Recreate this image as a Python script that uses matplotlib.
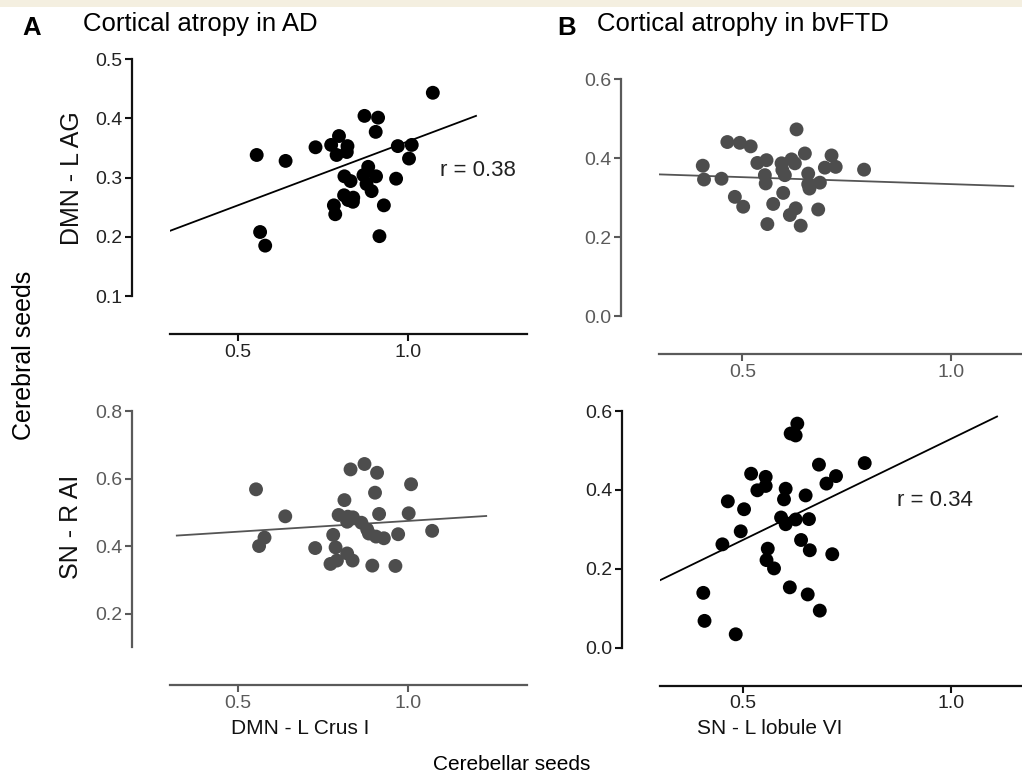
import matplotlib
matplotlib.use("Agg")
import matplotlib.pyplot as plt
from matplotlib.patches import Rectangle

plt.rcParams['font.family'] = ['Liberation Sans', 'DejaVu Sans']

# ---------------- data ----------------
# Panel A top: DMN - L Crus I vs DMN - L AG (AD)
a_top_x = [0.555, 0.565, 0.580, 0.640, 0.728, 0.774, 0.797, 0.790, 0.822, 0.820,
           0.813, 0.831, 0.812, 0.824, 0.839, 0.838, 0.782, 0.786, 0.872, 0.912,
           0.905, 0.869, 0.883, 0.906, 0.878, 0.893, 0.929, 0.916, 0.970, 1.011,
           1.003, 0.965, 1.073]
a_top_y = [0.338, 0.208, 0.185, 0.328, 0.351, 0.355, 0.370, 0.338, 0.353, 0.343,
           0.302, 0.294, 0.270, 0.262, 0.266, 0.259, 0.253, 0.238, 0.404, 0.401,
           0.377, 0.304, 0.318, 0.302, 0.289, 0.277, 0.253, 0.201, 0.353, 0.355,
           0.332, 0.298, 0.443]
a_top_fit_x = [0.30, 1.20]
a_top_fit_y = [0.210, 0.404]

# Panel B top: SN - L lobule VI vs DMN - L AG (bvFTD)
b_top_x = [0.405, 0.408, 0.450, 0.464, 0.494, 0.520, 0.482, 0.502, 0.536, 0.558,
           0.554, 0.556, 0.574, 0.560, 0.594, 0.602, 0.596, 0.618, 0.626, 0.630,
           0.650, 0.598, 0.614, 0.628, 0.640, 0.658, 0.658, 0.661, 0.686, 0.682,
           0.698, 0.714, 0.724, 0.792]
b_top_y = [0.381, 0.346, 0.348, 0.441, 0.439, 0.430, 0.302, 0.277, 0.388, 0.395,
           0.357, 0.336, 0.284, 0.233, 0.387, 0.357, 0.370, 0.397, 0.387, 0.473,
           0.412, 0.312, 0.256, 0.273, 0.229, 0.361, 0.334, 0.323, 0.338, 0.270,
           0.376, 0.407, 0.378, 0.371]
b_top_fit_x = [0.30, 1.15]
b_top_fit_y = [0.359, 0.329]

# Panel A bottom: DMN - L Crus I vs SN - R AI (AD)
a_bot_x = [0.553, 0.562, 0.578, 0.639, 0.727, 0.813, 0.831, 0.872, 0.909, 0.903,
           0.796, 0.823, 0.838, 0.821, 0.863, 0.880, 0.885, 0.906, 0.929, 0.915,
           0.780, 0.787, 0.821, 0.837, 0.791, 0.772, 0.895, 0.963, 0.971, 1.002,
           1.009, 1.071]
a_bot_y = [0.568, 0.400, 0.425, 0.488, 0.394, 0.536, 0.627, 0.643, 0.617, 0.558,
           0.492, 0.487, 0.485, 0.472, 0.469, 0.449, 0.437, 0.428, 0.423, 0.495,
           0.433, 0.396, 0.378, 0.357, 0.357, 0.347, 0.342, 0.341, 0.435, 0.497,
           0.583, 0.445]
a_bot_fit_x = [0.32, 1.23]
a_bot_fit_y = [0.431, 0.489]

# Panel B bottom: SN - L lobule VI vs SN - R AI (bvFTD)
b_bot_x = [0.404, 0.407, 0.482, 0.450, 0.463, 0.502, 0.494, 0.519, 0.534, 0.554,
           0.554, 0.559, 0.556, 0.574, 0.602, 0.598, 0.591, 0.602, 0.626, 0.612,
           0.614, 0.626, 0.630, 0.650, 0.658, 0.639, 0.660, 0.655, 0.684, 0.682,
           0.700, 0.723, 0.714, 0.792]
b_bot_y = [0.139, 0.068, 0.034, 0.262, 0.371, 0.351, 0.295, 0.441, 0.399, 0.433,
           0.410, 0.251, 0.222, 0.201, 0.403, 0.376, 0.330, 0.313, 0.325, 0.153,
           0.543, 0.538, 0.568, 0.386, 0.326, 0.273, 0.247, 0.135, 0.094, 0.464,
           0.416, 0.435, 0.237, 0.468]
b_bot_fit_x = [0.30, 1.11]
b_bot_fit_y = [0.171, 0.586]

x_ticks = [0.5, 1.0]
a_top_yticks = [0.1, 0.2, 0.3, 0.4, 0.5]
b_top_yticks = [0.0, 0.2, 0.4, 0.6]
a_bot_yticks = [0.2, 0.4, 0.6, 0.8]
b_bot_yticks = [0.0, 0.2, 0.4, 0.6]

# ---------------- figure ----------------
W, H = 1022, 782
fig = plt.figure(figsize=(W / 100, H / 100), dpi=100)
fig.patches.append(Rectangle((0, 1 - 7 / H), 1, 7 / H, transform=fig.transFigure,
                             facecolor='#f4efe0', edgecolor='none', zorder=0))

BLACK = '#111111'
GRAY = '#5a5a5a'
OUT = 38 * 72 / 100  # points
TICK_FS = 14
VLAB_FS = 18
HLAB_FS = 15
TITLE_FS = 18.5
R_FS = 16


def make_ax(x0, x1, ytop, ybot):
    return fig.add_axes([x0 / W, 1 - ybot / H, (x1 - x0) / W, (ybot - ytop) / H])


def style(ax, xlim, ylim, yticks, ybounds, col, tcol):
    ax.set_xlim(*xlim)
    ax.set_ylim(*ylim)
    ax.patch.set_alpha(0)
    for s in ['top', 'right']:
        ax.spines[s].set_visible(False)
    for s in ['left', 'bottom']:
        ax.spines[s].set_position(('outward', OUT))
        ax.spines[s].set_color(col)
        ax.spines[s].set_linewidth(1.6)
    ax.spines['left'].set_bounds(*ybounds)
    ax.spines['bottom'].set_bounds(*xlim)
    ax.set_xticks(x_ticks)
    ax.set_xticklabels(['0.5', '1.0'])
    ax.set_yticks(yticks)
    ax.set_yticklabels([f'{v:.1f}' for v in yticks])
    ax.tick_params(axis='both', colors=col, labelcolor=tcol, labelsize=TICK_FS,
                   length=5, width=1.5, pad=2)


def ftext(x, y, s, **kw):
    return fig.text(x / W, 1 - y / H, s, **kw)


# A top
ax1 = make_ax(170, 527, 59, 296)
style(ax1, (0.3, 1.35), (0.1, 0.5), a_top_yticks, (0.1, 0.5), BLACK, '#222222')
ax1.scatter(a_top_x, a_top_y, s=100, color='black', edgecolors='none', zorder=3)
ax1.plot(a_top_fit_x, a_top_fit_y, color='black', lw=1.3, zorder=2)
ax1.text(1.093, 0.311, 'r = 0.38', fontsize=R_FS, color='#222222', va='center')

# B top
ax2 = make_ax(659, 1022, 79.3, 316)
style(ax2, (0.3, 1.171), (0.0, 0.6), b_top_yticks, (0.0, 0.6), GRAY, GRAY)
ax2.scatter(b_top_x, b_top_y, s=100, color='#4d4d4d', edgecolors='none', zorder=3)
ax2.plot(b_top_fit_x, b_top_fit_y, color='#555555', lw=1.3, zorder=2)

# A bottom
ax3 = make_ax(170, 527, 411, 647.3)
style(ax3, (0.3, 1.35), (0.1, 0.8), a_bot_yticks, (0.1, 0.8), GRAY, GRAY)
ax3.scatter(a_bot_x, a_bot_y, s=100, color='#4d4d4d', edgecolors='none', zorder=3)
ax3.plot(a_bot_fit_x, a_bot_fit_y, color='#555555', lw=1.3, zorder=2)

# B bottom
ax4 = make_ax(660, 1022, 411, 647.7)
style(ax4, (0.3, 1.17), (0.0, 0.6), b_bot_yticks, (0.0, 0.6), BLACK, '#222222')
ax4.scatter(b_bot_x, b_bot_y, s=100, color='black', edgecolors='none', zorder=3)
ax4.plot(b_bot_fit_x, b_bot_fit_y, color='black', lw=1.3, zorder=2)
ax4.text(0.869, 0.374, 'r = 0.34', fontsize=R_FS, color='#222222', va='center')

# axis labels
ftext(72, 178, 'DMN - L AG', fontsize=VLAB_FS, rotation=90, ha='center', va='center',
      color='#111111')
ftext(71, 527, 'SN - R AI', fontsize=VLAB_FS, rotation=90, ha='center', va='center',
      color='#111111')
ftext(300, 729, 'DMN - L Crus I', fontsize=HLAB_FS, ha='center', va='center',
      color='#111111')
ftext(770, 729, 'SN - L lobule VI', fontsize=HLAB_FS, ha='center', va='center',
      color='#111111')

# titles and shared labels
ftext(22, 35, 'A', fontsize=TITLE_FS, fontweight='bold', va='baseline')
ftext(83, 31, 'Cortical atropy in AD', fontsize=TITLE_FS, va='baseline')
ftext(557, 35, 'B', fontsize=TITLE_FS, fontweight='bold', va='baseline')
ftext(597, 31, 'Cortical atrophy in bvFTD', fontsize=TITLE_FS, va='baseline')
ftext(24, 355, 'Cerebral seeds', fontsize=VLAB_FS, rotation=90,
      ha='center', va='center')
ftext(512, 765, 'Cerebellar seeds', fontsize=HLAB_FS, ha='center', va='center')

fig.savefig('out.png', dpi=100)
